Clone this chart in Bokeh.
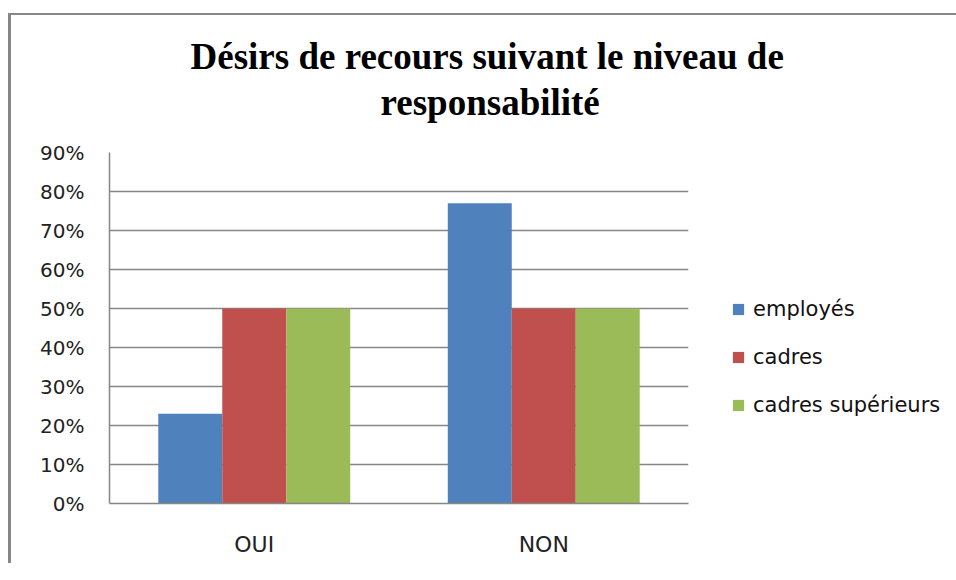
from bokeh.plotting import figure
from bokeh.models import (FactorRange, Range1d, Legend, LegendItem, NumeralTickFormatter,
                          FixedTicker, Title, ColumnDataSource)
from bokeh.transform import dodge
from bokeh.embed import file_html
from bokeh.resources import INLINE

# ---- data ----
categories = ["OUI", "NON"]
series_names = ["employés", "cadres", "cadres supérieurs"]
employes = [0.23, 0.77]
cadres = [0.50, 0.50]
cadres_superieurs = [0.50, 0.50]
y_ticks = [0.0, 0.1, 0.2, 0.3, 0.4, 0.5, 0.6, 0.7, 0.8, 0.9]
title_lines = ["Désirs de recours suivant le niveau de", "responsabilité"]

colors = ["#4F81BD", "#C0504D", "#9BBB59"]
grid_color = "#868686"

source = ColumnDataSource(dict(cat=categories, employes=employes, cadres=cadres,
                               cadres_sup=cadres_superieurs))

p = figure(x_range=FactorRange(factors=categories, range_padding=0),
           y_range=Range1d(0, 0.9),
           frame_width=579, frame_height=351,
           output_backend="svg", toolbar_location=None,
           min_border_left=98, min_border_right=259,
           min_border_top=137, min_border_bottom=60)
p.styles = {"border-top": "2px solid #868686", "border-left": "3px solid #868686",
            "margin-left": "8px", "margin-top": "13px"}
p.outline_line_color = None
p.background_fill_color = "white"
p.border_fill_color = "white"

bw = 0.221
fields = ["employes", "cadres", "cadres_sup"]
offsets = [-bw, 0.0, bw]
renderers = []
for f, off, c in zip(fields, offsets, colors):
    r = p.vbar(x=dodge("cat", off, range=p.x_range), top=f, width=bw, source=source,
               fill_color=c, line_color=None)
    renderers.append(r)

legend = Legend(items=[LegendItem(label=n, renderers=[r]) for n, r in zip(series_names, renderers)],
                location=(43, 85))
legend.border_line_color = None
legend.background_fill_alpha = 0
legend.padding = 0
legend.margin = 0
legend.spacing = 22
legend.label_height = 26
legend.glyph_height = 14
legend.glyph_width = 14
legend.label_standoff = 8
legend.label_text_font = "DejaVu Sans"
legend.label_text_font_size = "21px"
legend.label_text_color = "#111111"
p.add_layout(legend, "right")

# y axis
p.yaxis.ticker = FixedTicker(ticks=y_ticks)
p.yaxis.formatter = NumeralTickFormatter(format="0%")
p.yaxis.major_label_text_font = "DejaVu Sans"
p.yaxis.major_label_text_font_size = "20px"
p.yaxis.major_label_text_color = "#222222"
p.yaxis.axis_line_color = grid_color
p.yaxis.axis_line_width = 1.5
p.yaxis.major_tick_line_color = None
p.yaxis.minor_tick_line_color = None
p.yaxis.major_tick_out = 0
p.yaxis.major_tick_in = 0
p.yaxis.major_label_standoff = 25

# x axis
p.xaxis.major_label_text_font = "DejaVu Sans"
p.xaxis.major_label_text_font_size = "22px"
p.xaxis.major_label_text_color = "#222222"
p.xaxis.axis_line_color = grid_color
p.xaxis.axis_line_width = 1.5
p.xaxis.major_tick_line_color = None
p.xaxis.minor_tick_line_color = None
p.xaxis.major_tick_out = 0
p.xaxis.major_tick_in = 0
p.xaxis.major_label_standoff = 28

p.xgrid.grid_line_color = None
p.ygrid.grid_line_color = grid_color
p.ygrid.grid_line_width = 1.5

# title: second line added first (closest to the frame)
p.add_layout(Title(text=title_lines[1], align="left", offset=271, standoff=60,
                   text_font="Liberation Serif", text_font_style="bold",
                   text_font_size="37px", text_color="black"), "above")
p.add_layout(Title(text=title_lines[0], align="left", offset=81, standoff=-54,
                   text_font="Liberation Serif", text_font_style="bold",
                   text_font_size="37px", text_color="black"), "above")

open("out.html", "w").write(file_html(p, INLINE))
